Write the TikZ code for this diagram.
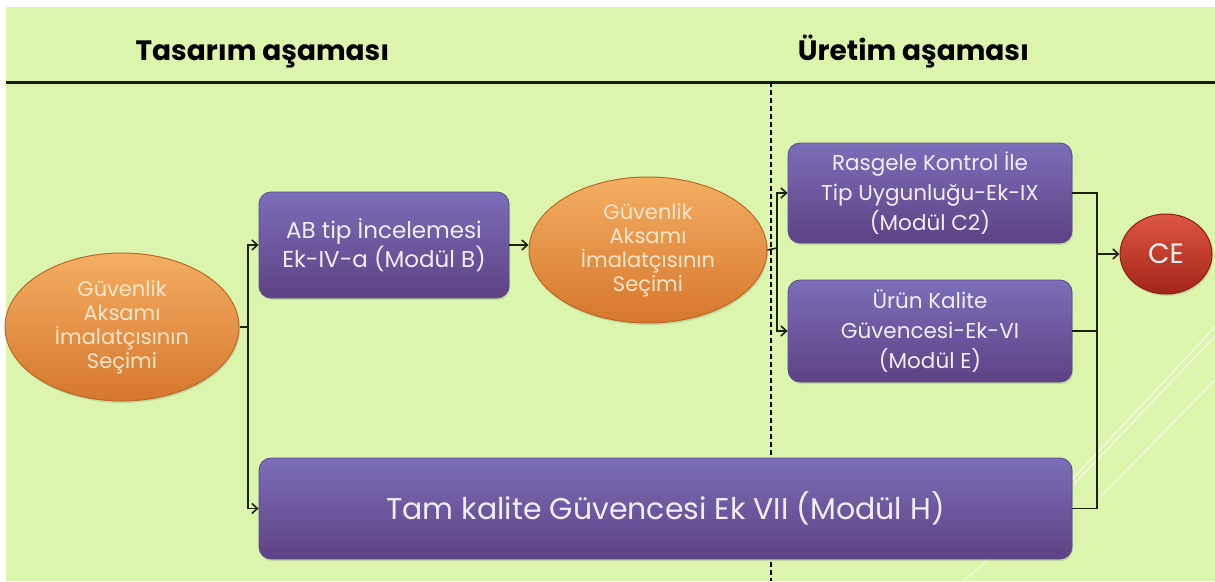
\documentclass[tikz,border=0pt]{standalone}
\usepackage{fontspec}
\setmainfont{Poppins}
\usetikzlibrary{shapes.geometric,arrows.meta,shadows}
\definecolor{bg}{HTML}{DCF5AD}
\definecolor{boxtop}{HTML}{7C6EB9}
\definecolor{boxbot}{HTML}{5D4284}
\definecolor{boxedge}{HTML}{5A4A8A}
\definecolor{boxtext}{HTML}{F2EEF8}
\definecolor{elltop}{HTML}{F4AE62}
\definecolor{ellbot}{HTML}{D6772C}
\definecolor{elledge}{HTML}{B8692A}
\definecolor{elltext}{HTML}{FBE6CC}
\definecolor{cetop}{HTML}{DE5641}
\definecolor{cebot}{HTML}{A3251A}
\definecolor{ceedge}{HTML}{8C2016}
\definecolor{linec}{HTML}{1B2210}
\tikzset{
  pbox/.style={rectangle, rounded corners=12pt, draw=boxedge, line width=0.8pt,
    top color=boxtop, bottom color=boxbot, text=boxtext, align=center, inner sep=0pt,
    drop shadow={opacity=0.25, shadow xshift=1pt, shadow yshift=-2pt}},
  oell/.style={ellipse, draw=elledge, line width=1pt, top color=elltop, bottom color=ellbot,
    text=elltext, align=center, inner sep=0pt,
    drop shadow={opacity=0.25, shadow xshift=1pt, shadow yshift=-2pt}},
  ceell/.style={ellipse, draw=ceedge, line width=1pt, top color=cetop, bottom color=cebot,
    text=white, align=center, inner sep=0pt,
    drop shadow={opacity=0.25, shadow xshift=1pt, shadow yshift=-2pt}},
  conn/.style={draw=linec, line width=1.6pt},
  arr/.style={conn, -{Straight Barb[length=5.5pt,width=10pt]}},
  titletext/.style={font=\fontsize{28}{32}\selectfont\bfseries, text=black, inner sep=0pt, anchor=base},
  deco/.style={draw=white, opacity=0.75, line width=1.2pt}
}
\begin{document}
\begin{tikzpicture}[x=1pt,y=-1pt]
\useasboundingbox (0,0) rectangle (1215,581);
\fill[white] (0,0) rectangle (1215,581);
\fill[bg] (6,7) rectangle (1215,581);
% decorative lines
\draw[deco] (1066,486) -- (1215,327);
\draw[deco] (1074,484) -- (1215,336);
\draw[deco] (1100,497) -- (1215,380);
\draw[deco, opacity=0.5] (963,581) -- (1002,548);
% titles
\node[titletext] (t1) at (262.5,60) {Tasarım aşaması};
\node[titletext] (t2) at (913.5,60) {Üretim aşaması};
% header line and divider
\coordinate (hl) at (6,82);
\coordinate (hr) at (1215,82);
\draw[line width=3pt, draw=black!90] (hl) -- (hr);
\coordinate (dtop) at (771,82);
\coordinate (dbot) at (771,581);
\draw[line width=1.1pt, dash pattern=on 5pt off 3pt] (dtop) -- (dbot);
% nodes
\node[oell, minimum width=234pt, minimum height=148pt, font=\fontsize{21}{24}\selectfont] (e1) at (122,327)
  {Güvenlik\\Aksamı\\İmalatçısının\\Seçimi};
\node[pbox, minimum width=250pt, minimum height=106pt, font=\fontsize{23}{25}\selectfont] (ab) at (384,245)
  {AB tip İncelemesi\\Ek-IV-a (Modül B)};
\node[oell, minimum width=238pt, minimum height=146pt, font=\fontsize{21}{24}\selectfont] (e2) at (648,250)
  {Güvenlik\\Aksamı\\İmalatçısının\\Seçimi};
\node[pbox, minimum width=284pt, minimum height=100pt, font=\fontsize{21.5}{30}\selectfont] (c2) at (930,193)
  {Rasgele Kontrol İle\\Tip Uygunluğu-Ek-IX\\(Modül C2)};
\node[pbox, minimum width=284pt, minimum height=102pt, font=\fontsize{21.5}{30}\selectfont] (eb) at (930,331)
  {Ürün Kalite\\Güvencesi-Ek-VI\\(Modül E)};
\node[pbox, minimum width=813pt, minimum height=101pt, font=\fontsize{30}{34}\selectfont] (h) at (665.5,508.5)
  {Tam kalite Güvencesi Ek VII (Modül H)};
\node[ceell, minimum width=92pt, minimum height=80pt, font=\fontsize{28}{30}\selectfont, text=white!95!red] (ce) at (1166,254) {CE};
% connectors
\coordinate (j1) at (248,327);
\coordinate (j2) at (777,248);
\coordinate (jr) at (1097,254);
\draw[conn] (e1.east) -- (j1);
\draw[arr] (j1) |- (ab.west);
\draw[arr] (j1) |- (h.west);
\draw[arr] (ab.east) -- (ab.east -| e2.west);
\draw[conn] (e2.east) -- (j2);
\draw[arr] (j2) |- (c2.west);
\draw[arr] (j2) |- (eb.west);
\draw[conn] (c2.east) -| (jr);
\draw[conn] (h.east) -| (jr);
\draw[conn] (eb.east) -- (eb.east -| jr);
\draw[arr] (jr) -- (ce.west);
\end{tikzpicture}
\end{document}
